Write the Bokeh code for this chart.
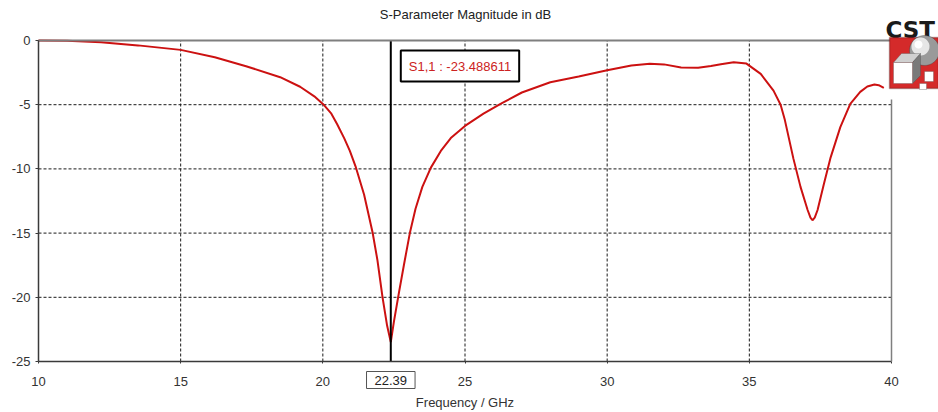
import numpy as np
from bokeh.plotting import figure
from bokeh.models import Label, BoxAnnotation, PolyAnnotation, FixedTicker, Range1d, LinearAxis
from bokeh.embed import file_html
from bokeh.resources import INLINE

# ---------------- data ----------------
freq_ghz = [10.0, 11.0, 12.2, 13.5, 15.0, 16.2, 17.3, 18.5, 19.2, 19.7, 20.05, 20.3, 20.5,
            20.75, 20.95, 21.15, 21.45, 21.75, 21.92, 22.1, 22.26, 22.39, 22.5, 22.68, 22.85,
            23.06, 23.26, 23.5, 23.8, 24.15, 24.5, 25.0, 25.65, 26.25, 27.0, 28.0, 29.0, 30.0,
            30.85, 31.5, 32.0, 32.6, 33.2, 33.65, 34.0, 34.45, 34.9, 35.4, 35.85, 36.1, 36.25,
            36.55, 36.8, 37.05, 37.15, 37.22, 37.3, 37.4, 37.62, 37.86, 38.2, 38.55, 38.9,
            39.15, 39.4, 39.55, 39.73]
s11_db = [0.0, -0.02, -0.13, -0.38, -0.73, -1.3, -2.0, -2.86, -3.6, -4.35, -5.05, -5.7, -6.5,
          -7.6, -8.6, -9.8, -12.0, -14.95, -17.1, -20.0, -22.2, -23.49, -21.9, -19.6, -17.5,
          -15.0, -13.1, -11.4, -9.9, -8.6, -7.6, -6.65, -5.7, -4.93, -4.05, -3.25, -2.8, -2.32,
          -1.95, -1.82, -1.86, -2.1, -2.13, -1.98, -1.85, -1.7, -1.8, -2.6, -3.9, -5.0, -6.2,
          -9.2, -11.4, -13.2, -13.8, -14.0, -13.8, -13.2, -11.2, -9.1, -6.75, -4.93, -4.0,
          -3.58, -3.43, -3.48, -3.69]
marker_freq = 22.39
marker_value = -23.488611
x_min, x_max = 10, 40
y_min, y_max = -25, 0
x_ticks = [10, 15, 20, 25, 30, 35, 40]
x_tick_labels = ["10", "15", "20", "25", "30", "35", "40"]
y_ticks = [0, -5, -10, -15, -20, -25]
y_tick_labels = ["0", "-5", "-10", "-15", "-20", "-25"]
title_text = "S-Parameter Magnitude in dB"
x_label_text = "Frequency / GHz"
series_name = "S1,1"

# ---------------- layout ----------------
FONT = "Liberation Sans"
W, H = 938, 412
PX_L, PX_R, PX_T, PX_B = 38, 891, 40, 361   # where the plot box sits on the canvas

xs = (x_max - x_min) / (PX_R - PX_L)
ys = (y_max - y_min) / (PX_B - PX_T)
x_range = Range1d(x_min - PX_L * xs, x_max + (W - PX_R) * xs)
y_range = Range1d(y_min - (H - PX_B) * ys, y_max + PX_T * ys)

p = figure(width=W, height=H, output_backend="svg", toolbar_location=None, title=None,
           x_range=x_range, y_range=y_range,
           min_border=0, min_border_left=0, min_border_right=0,
           min_border_top=0, min_border_bottom=0,
           background_fill_color="white", border_fill_color="white")
p.outline_line_color = None
p.xgrid.visible = False
p.ygrid.visible = False

# bottom axis
xa = p.xaxis[0]
xa.fixed_location = y_min
xa.bounds = (x_min, x_max)
xa.ticker = FixedTicker(ticks=x_ticks)
xa.major_label_overrides = dict(zip(x_ticks, x_tick_labels))
xa.axis_line_color = "#3a3a3a"
xa.axis_line_width = 1.5
xa.major_tick_line_color = "#3a3a3a"
xa.major_tick_in = 0
xa.major_tick_out = 2
xa.minor_tick_line_color = None
xa.major_label_standoff = 13
xa.major_label_text_font = FONT
xa.major_label_text_font_size = "13px"
xa.major_label_text_color = "#333333"
xa.axis_label = x_label_text
xa.axis_label_text_font = FONT
xa.axis_label_text_font_size = "13px"
xa.axis_label_text_font_style = "normal"
xa.axis_label_text_color = "#333333"
xa.axis_label_standoff = 6

# left axis
ya = p.yaxis[0]
ya.fixed_location = x_min
ya.bounds = (y_min, y_max)
ya.ticker = FixedTicker(ticks=y_ticks)
ya.major_label_overrides = dict(zip(y_ticks, y_tick_labels))
ya.axis_line_color = "#3a3a3a"
ya.axis_line_width = 1.5
ya.major_tick_line_color = "#3a3a3a"
ya.major_tick_in = 0
ya.major_tick_out = 3
ya.minor_tick_line_color = None
ya.major_label_standoff = 5
ya.major_label_text_font = FONT
ya.major_label_text_font_size = "13px"
ya.major_label_text_color = "#333333"

# top and right borders of the plot box (no ticks, no labels)
top_ax = LinearAxis(fixed_location=y_max, bounds=(x_min, x_max), axis_line_color="#7f7f7f",
                    axis_line_width=2, ticker=FixedTicker(ticks=[]),
                    major_tick_line_color=None, minor_tick_line_color=None)
right_ax = LinearAxis(fixed_location=x_max, bounds=(y_min, -4.6), axis_line_color="#7f7f7f",
                      axis_line_width=1.5, ticker=FixedTicker(ticks=[]),
                      major_tick_line_color=None, minor_tick_line_color=None)
p.add_layout(top_ax, "above")
p.add_layout(right_ax, "right")

# dashed grid inside the plot box
gx = x_ticks[1:-1]
gy = y_ticks[1:-1]
p.segment(x0=gx, y0=[y_min] * len(gx), x1=gx, y1=[y_max] * len(gx),
          line_color="#1a1a1a", line_width=1, line_dash="3 2")
p.segment(x0=[x_min] * len(gy), y0=gy, x1=[x_max] * len(gy), y1=gy,
          line_color="#1a1a1a", line_width=1, line_dash="3 2")

# curve
p.line(freq_ghz, s11_db, line_color="#cc1111", line_width=2)

# marker line
p.segment(x0=[marker_freq], y0=[y_min], x1=[marker_freq], y1=[y_max],
          line_color="black", line_width=2)

# texts
p.add_layout(Label(x=465, y=14, x_units="canvas", y_units="canvas", text=title_text,
                   text_align="center", text_baseline="middle", text_font=FONT,
                   text_font_size="13px", text_color="#222222"))
p.add_layout(Label(x=marker_freq, y=379.5, x_units="data", y_units="canvas",
                   text=f"{marker_freq:.2f}", text_align="center", text_baseline="middle",
                   text_font=FONT, text_font_size="13px", text_color="#222222",
                   border_line_color="#555555", border_line_width=1,
                   background_fill_color="white", padding=(8, 4)))
p.add_layout(Label(x=marker_freq, y=65.5, x_units="data", y_units="canvas", x_offset=10,
                   text=f"{series_name} : {marker_value:.6f}", text_align="left",
                   text_baseline="middle", text_font=FONT, text_font_size="13px",
                   text_color="#cc2222", border_line_color="black", border_line_width=2,
                   background_fill_color="white", padding=(8, 8)))

# ---------------- CST logo (decoration) ----------------
def cbox(l, r, t, b, fill, line="#444444", lw=1.0):
    return BoxAnnotation(left=l, right=r, top=t, bottom=b,
                         left_units="canvas", right_units="canvas",
                         top_units="canvas", bottom_units="canvas",
                         fill_color=fill, fill_alpha=1.0, line_color=line, line_width=lw)

def cpoly(xv, yv, fill, line=None):
    return PolyAnnotation(xs=list(xv), ys=list(yv), xs_units="canvas", ys_units="canvas",
                          fill_color=fill, fill_alpha=1.0, line_color=line)

t = np.linspace(0, 2 * np.pi, 48)
p.add_layout(Label(x=885, y=29, x_units="canvas", y_units="canvas", text="CST",
                   text_font="DejaVu Sans", text_font_style="bold", text_font_size="23px",
                   text_color="#1a1a1a", text_baseline="alphabetic"))
p.add_layout(cbox(889, 938, 37, 88, "#d42a2a", line="#3a0a0a", lw=1.5))
p.add_layout(cpoly(924 + 15 * np.cos(t), 50 + 15 * np.sin(t), "#9a9a9a", line="#2a2a2a"))
p.add_layout(cpoly(920 + 9 * np.cos(t), 46 + 9 * np.sin(t), "#e6e6e6"))
p.add_layout(cpoly(918 + 4 * np.cos(t), 44 + 4 * np.sin(t), "#ffffff"))
p.add_layout(cpoly([893, 901, 920, 912], [62, 53, 53, 62], "#d0d0d0", line="#444444"))
p.add_layout(cpoly([912, 920, 920, 912], [62, 53, 75, 83], "#7a7a7a", line="#444444"))
p.add_layout(cbox(893, 912, 62, 83, "white"))
p.add_layout(cbox(924, 933, 71, 81, "white"))
p.add_layout(cbox(919, 926, 83, 89, "white"))

open("out.html", "w").write(file_html(p, INLINE))
